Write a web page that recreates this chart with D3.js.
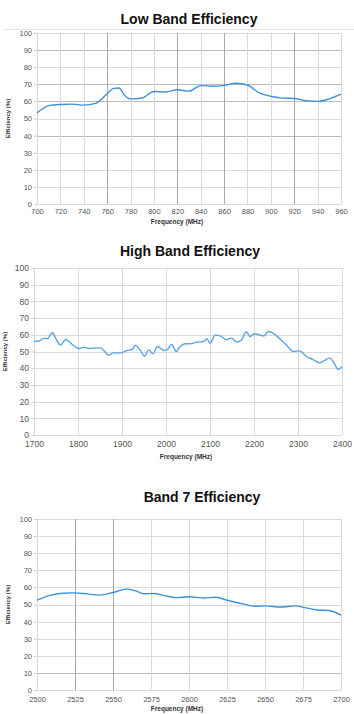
<!DOCTYPE html>
<html>
<head>
<meta charset="utf-8">
<script src="https://cdn.jsdelivr.net/npm/d3@7"></script>
<style>
  body { margin: 0; background: #fff; }
  svg { display: block; }
  .title { font-family: "Liberation Sans", Arial, sans-serif; font-weight: bold; fill: #111; }
  .tick text { font-family: "Liberation Sans", Arial, sans-serif; fill: #555; }
  .axis path { display: none; }
  .axis-title { font-family: "Liberation Sans", Arial, sans-serif; font-weight: bold; fill: #333; }
</style>
</head>
<body>
<div id="chart"></div>
<script>
// ---- data ----
var lowFreq = [700, 710, 720, 730, 740, 750, 760, 765, 770, 775, 780, 790, 800, 810, 820, 830, 840, 850, 860, 870, 880, 890, 900, 910, 920, 930, 940, 950, 960];
var lowEff  = [53.2, 57.5, 58.2, 58.4, 57.8, 58.8, 64.5, 67.5, 67.8, 63.5, 61.5, 62, 65.8, 65.5, 66.8, 66, 69.2, 68.9, 69.4, 70.6, 69.6, 65, 63, 61.9, 61.7, 60.4, 60, 61.5, 64.2];
var lowTicks = [700, 720, 740, 760, 780, 800, 820, 840, 860, 880, 900, 920, 940, 960];

var highFreq = [1700, 1711, 1723, 1730, 1742, 1749, 1760, 1772, 1787, 1802, 1813, 1825, 1851, 1870, 1881, 1896, 1911, 1923, 1930, 1942, 1951, 1961, 1970, 1981, 1995, 2002, 2013, 2023, 2032, 2044, 2055, 2070, 2085, 2093, 2100, 2112, 2123, 2138, 2149, 2161, 2172, 2182, 2191, 2202, 2213, 2223, 2232, 2240, 2259, 2274, 2289, 2304, 2319, 2334, 2349, 2360, 2372, 2383, 2391, 2400];
var highEff  = [56, 56.3, 58, 57.6, 61.2, 58, 53.8, 57.2, 54.2, 51.8, 52.6, 51.8, 52.2, 47.8, 49.2, 49.2, 50.6, 51.2, 53.8, 50.6, 47.2, 51, 48.6, 53, 50.6, 51, 54.2, 50, 53, 54.6, 54.6, 55.6, 56, 57.6, 55, 59.8, 59.4, 57, 58, 55.6, 57, 61.8, 59, 60.6, 59.8, 59.4, 62, 61.4, 57.6, 53.8, 50, 50.4, 47, 45.2, 43.2, 44.6, 46.2, 42.6, 39.2, 40.8];
var highTicks = [1700, 1800, 1900, 2000, 2100, 2200, 2300, 2400];

var b7Freq = [2500, 2508, 2517, 2525, 2533, 2541, 2550, 2559, 2565, 2570, 2577, 2586, 2592, 2600, 2610, 2618, 2625, 2635, 2643, 2650, 2660, 2670, 2677, 2684, 2692, 2700];
var b7Eff  = [52.5, 55.2, 56.6, 56.8, 56.2, 55.5, 57.0, 59.0, 58.0, 56.3, 56.4, 54.8, 54, 54.5, 53.8, 54.2, 52.5, 50.5, 49, 49.2, 48.5, 49.2, 48, 46.8, 46.5, 43.8];
var b7Ticks = [2500, 2525, 2550, 2575, 2600, 2625, 2650, 2675, 2700];

var effTicks = [0, 10, 20, 30, 40, 50, 60, 70, 80, 90, 100];

var svg = d3.select("#chart").append("svg")
    .attr("width", 354)
    .attr("height", 714);

// thin rule under the first title
svg.append("line")
    .attr("x1", 3).attr("x2", 354)
    .attr("y1", 29.5).attr("y2", 29.5)
    .attr("stroke", "#e4e4e4");

function drawChart(opt) {
  var x = d3.scaleLinear().domain(opt.xDomain).range([opt.left, opt.right]);
  var y = d3.scaleLinear().domain([0, 100]).range([opt.bottom, opt.top]);
  var g = svg.append("g");

  g.append("text")
      .attr("class", "title")
      .attr("x", opt.titleX)
      .attr("y", opt.titleY)
      .attr("text-anchor", "middle")
      .attr("font-size", 14)
      .text(opt.title);

  // gridlines
  g.selectAll(".hgrid").data(effTicks).enter().append("line")
      .attr("x1", opt.left).attr("x2", opt.right)
      .attr("y1", function(d) { return Math.round(y(d)) + 0.5; })
      .attr("y2", function(d) { return Math.round(y(d)) + 0.5; })
      .attr("stroke", function(d) { return opt.darkY.indexOf(d) >= 0 ? "#bbb" : "#dadada"; });

  g.selectAll(".vgrid").data(opt.ticks).enter().append("line")
      .attr("y1", opt.top).attr("y2", opt.bottom)
      .attr("x1", function(d) { return Math.round(x(d)) + 0.5; })
      .attr("x2", function(d) { return Math.round(x(d)) + 0.5; })
      .attr("stroke", function(d) { return opt.darkX.indexOf(d) >= 0 ? "#aaa" : "#dadada"; });

  var xAxis = d3.axisBottom(x).tickValues(opt.ticks).tickSize(0).tickPadding(opt.tickPad).tickFormat(d3.format("d"));
  var yAxis = d3.axisLeft(y).tickValues(effTicks).tickSize(3).tickPadding(2);

  var ax = g.append("g").attr("class", "axis")
      .attr("transform", "translate(0," + opt.bottom + ")")
      .call(xAxis);
  ax.selectAll("text").attr("font-size", opt.tickFont).attr("font-family", opt.tickFamily).attr("fill", opt.tickColor);

  var ay = g.append("g").attr("class", "axis")
      .attr("transform", "translate(" + opt.left + ",0)")
      .call(yAxis);
  ay.selectAll("text").attr("font-size", opt.tickFont).attr("font-family", opt.tickFamily).attr("fill", opt.tickColor);
  ay.selectAll("line").attr("stroke", "#ccc");

  g.append("text")
      .attr("class", "axis-title")
      .attr("x", opt.xTitleX)
      .attr("y", opt.xTitleY)
      .attr("text-anchor", "middle")
      .attr("font-size", 6.5)
      .text("Frequency (MHz)");

  g.append("text")
      .attr("class", "axis-title")
      .attr("transform", "translate(" + opt.yTitleX + "," + (opt.top + opt.bottom) / 2 + ") rotate(-90)")
      .attr("text-anchor", "middle")
      .attr("font-size", 6)
      .text("Efficiency (%)");

  var line = d3.line()
      .curve(d3.curveMonotoneX)
      .x(function(d, i) { return x(opt.freq[i]); })
      .y(function(d) { return y(d); });

  g.append("path")
      .datum(opt.eff)
      .attr("fill", "none")
      .attr("stroke", opt.color)
      .attr("stroke-width", 1.4)
      .attr("d", line);
}

drawChart({
  title: "Low Band Efficiency", titleX: 189, titleY: 24,
  xDomain: [700, 960], left: 37, right: 341, top: 33, bottom: 204,
  ticks: lowTicks, darkX: [760, 820, 860, 920], darkY: [90, 70, 60, 40],
  freq: lowFreq, eff: lowEff, color: "#3d91d9",
  tickFont: 7.5, tickFamily: "Liberation Sans", tickColor: "#555", tickPad: 5,
  xTitleX: 177, xTitleY: 224, yTitleX: 10
});

drawChart({
  title: "High Band Efficiency", titleX: 190, titleY: 256,
  xDomain: [1700, 2400], left: 34, right: 342, top: 268, bottom: 435,
  ticks: highTicks, darkX: [], darkY: [],
  freq: highFreq, eff: highEff, color: "#5ba3e3",
  tickFont: 8.5, tickFamily: "Carlito, 'Liberation Sans'", tickColor: "#444", tickPad: 6,
  xTitleX: 186, xTitleY: 459, yTitleX: 7
});

drawChart({
  title: "Band 7 Efficiency", titleX: 202, titleY: 502,
  xDomain: [2500, 2700], left: 37, right: 341, top: 519, bottom: 690,
  ticks: b7Ticks, darkX: [2525, 2550], darkY: [10],
  freq: b7Freq, eff: b7Eff, color: "#3d91d9",
  tickFont: 7.5, tickFamily: "Liberation Sans", tickColor: "#555", tickPad: 6.5,
  xTitleX: 177, xTitleY: 711, yTitleX: 10
});
</script>
</body>
</html>
